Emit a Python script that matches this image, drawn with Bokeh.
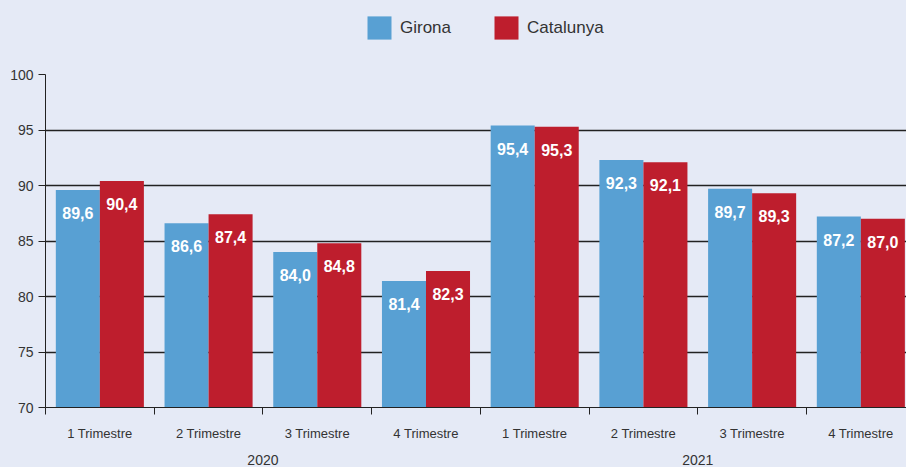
import numpy as np
from bokeh.plotting import figure
from bokeh.layouts import column
from bokeh.models import Range1d, FixedTicker, LinearAxis, Legend, LegendItem
from bokeh.core.properties import value
from bokeh.embed import file_html
from bokeh.resources import INLINE

# ---- data ----
quarters = ["1 Trimestre", "2 Trimestre", "3 Trimestre", "4 Trimestre",
            "1 Trimestre", "2 Trimestre", "3 Trimestre", "4 Trimestre"]
years = ["2020", "2021"]
girona = [89.6, 86.6, 84.0, 81.4, 95.4, 92.3, 89.7, 87.2]
catalunya = [90.4, 87.4, 84.8, 82.3, 95.3, 92.1, 89.3, 87.0]
series_names = ["Girona", "Catalunya"]
y_ticks = [70, 75, 80, 85, 90, 95, 100]

# ---- style ----
BG = "#e5eaf6"
BLUE = "#58a0d3"
RED = "#be1e2d"
FONT = "Liberation Sans"
DARK = "#222222"
colors = [BLUE, RED]
series = [girona, catalunya]

n = len(girona)
centers = np.arange(n) + 0.5
bw = 0.405
ymin = y_ticks[0]

W = 906
LEG_H = 64
H = 467 - LEG_H
MT, MB, ML = 10, 55, 45

# ---- legend strip (hidden series renderers, only the legend shows) ----
lf = figure(width=W, height=LEG_H, output_backend="svg", toolbar_location=None,
            x_axis_type=None, y_axis_type=None, x_range=Range1d(0, 7.92),
            y_range=Range1d(y_ticks[0], y_ticks[-1]),
            min_border=0, background_fill_color=None, border_fill_color=None,
            outline_line_color=None)
lf.xgrid.grid_line_color = None
lf.ygrid.grid_line_color = None
leg_r = [lf.vbar(x=centers + off, top=vals, bottom=ymin, width=bw, fill_color=c,
                 line_color=None, visible=False)
         for off, vals, c in zip((-bw / 2, bw / 2), series, colors)]
legend = Legend(items=[LegendItem(label=s, renderers=[r]) for s, r in zip(series_names, leg_r)],
                orientation="horizontal", location=(319, LEG_H - 13 - 29),
                border_line_color=None, background_fill_alpha=0,
                glyph_width=30, glyph_height=29, label_standoff=6, spacing=40,
                label_text_font=FONT, label_text_font_size="17px",
                label_text_color="#333333", padding=0, margin=0)
lf.add_layout(legend)

# ---- main chart ----
p = figure(width=W, height=H, output_backend="svg", toolbar_location=None,
           x_range=Range1d(0, 7.92), y_range=Range1d(y_ticks[0], y_ticks[-1]),
           min_border_left=ML, min_border_right=0, min_border_top=MT, min_border_bottom=MB,
           background_fill_color=None, border_fill_color=None, outline_line_color=None)

for off, vals, c in zip((-bw / 2, bw / 2), series, colors):
    p.vbar(x=centers + off, top=vals, bottom=ymin, width=bw, fill_color=c, line_color=None)

fmt = lambda v: f"{v:.1f}".replace(".", ",")
for off, vals in zip((-bw / 2, bw / 2), series):
    p.text(x=centers + off, y=vals, text=[fmt(v) for v in vals], text_align="center",
           text_baseline="middle", y_offset=23, text_color="white",
           text_font=value(FONT), text_font_style="bold", text_font_size="16px")

# grid
p.xgrid.grid_line_color = None
p.ygrid.ticker = FixedTicker(ticks=y_ticks)
p.ygrid.grid_line_color = DARK
p.ygrid.grid_line_width = 1.3

# y axis
ya = p.yaxis[0]
ya.ticker = FixedTicker(ticks=y_ticks)
ya.axis_line_color = DARK
ya.major_tick_line_color = DARK
ya.major_tick_out = 7
ya.major_tick_in = 0
ya.minor_tick_line_color = None
ya.major_label_text_font = FONT
ya.major_label_text_font_size = "14px"
ya.major_label_text_color = "#333333"
ya.major_label_standoff = 5

# x axis (quarters)
xa = p.xaxis[0]
xa.ticker = FixedTicker(ticks=list(centers), minor_ticks=list(range(n + 1)))
xa.axis_line_color = DARK
xa.major_tick_line_color = None
xa.major_tick_out = 0
xa.major_tick_in = 0
xa.minor_tick_line_color = DARK
xa.minor_tick_out = 7
xa.minor_tick_in = 0
xa.major_label_overrides = {float(c): q for c, q in zip(centers, quarters)}
xa.major_label_text_font = FONT
xa.major_label_text_font_size = "13px"
xa.major_label_text_color = "#333333"
xa.major_label_standoff = 11

# year axis
year_pos = [2.0, 6.0]
ya2 = LinearAxis(ticker=FixedTicker(ticks=year_pos),
                 major_label_overrides={pos: y for pos, y in zip(year_pos, years)},
                 axis_line_color=None, major_tick_line_color=None,
                 minor_tick_line_color=None, major_tick_out=0, major_tick_in=0,
                 major_label_text_font=FONT, major_label_text_font_size="14px",
                 major_label_text_color="#333333", major_label_standoff=11)
p.add_layout(ya2, "below")

layout = column(lf, p, spacing=0, styles={"background-color": BG})
open("out.html", "w").write(file_html(layout, INLINE))
